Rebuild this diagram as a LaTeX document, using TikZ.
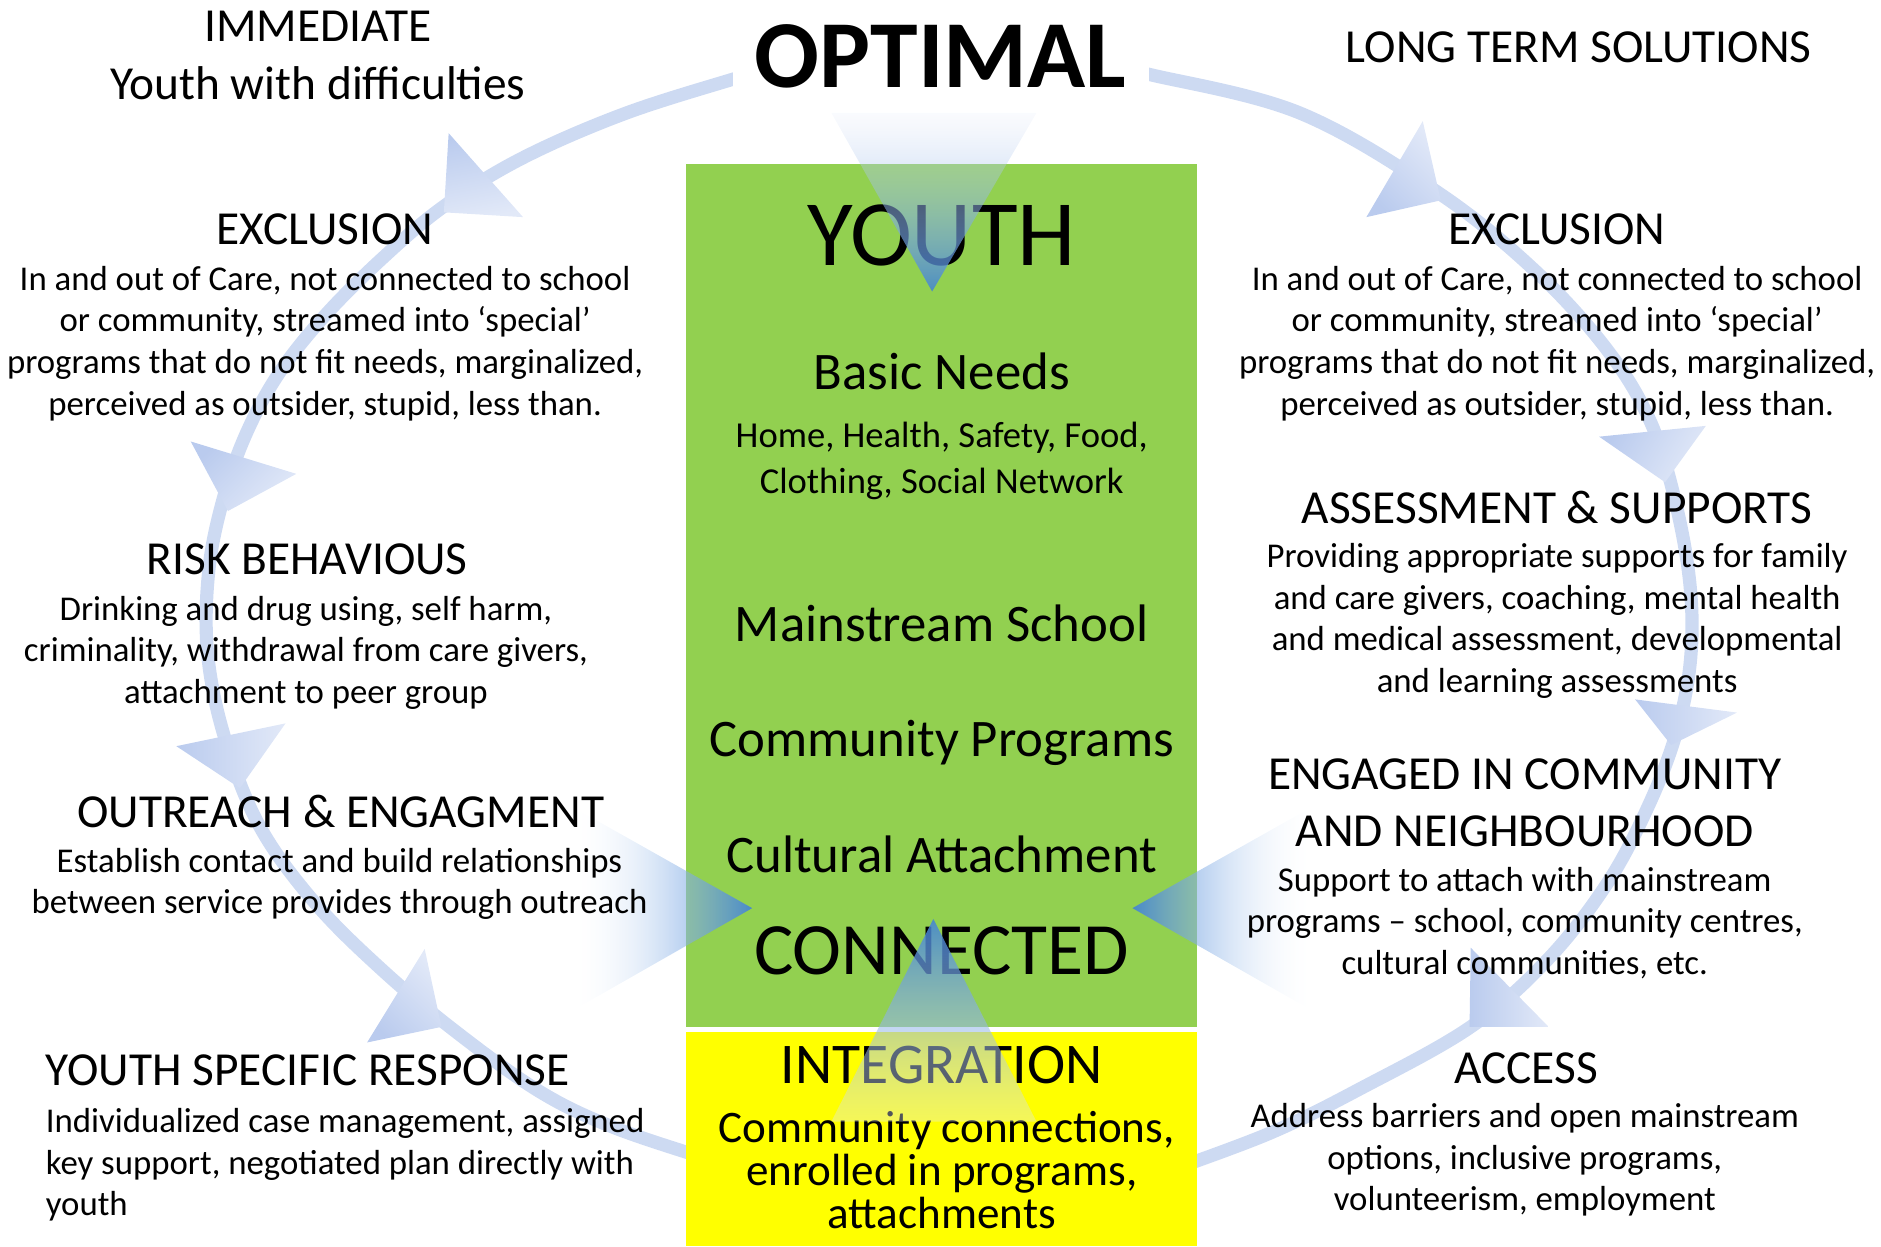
\documentclass[tikz,border=0pt]{standalone}
\usepackage{fontspec}
\setmainfont{Carlito}
\usetikzlibrary{fadings}

\definecolor{boxgreen}{RGB}{146,208,80}
\definecolor{boxyellow}{RGB}{255,255,0}
\definecolor{arcblue}{RGB}{205,218,242}
\definecolor{headdark}{RGB}{186,203,238}
\definecolor{headlight}{RGB}{226,233,248}
\definecolor{bigblue}{RGB}{65,130,215}
\definecolor{bigpale}{RGB}{228,234,248}

\tikzfading[name=fadetopdown, top color=transparent!80, bottom color=transparent!15]
\tikzfading[name=fadebottomup, top color=transparent!15, bottom color=transparent!65]
\tikzfading[name=fadeleftright, left color=transparent!95, right color=transparent!10]
\tikzfading[name=faderightleft, left color=transparent!10, right color=transparent!95]

\tikzset{
  txt/.style={anchor=base, inner sep=0pt, text=black},
  title/.style={txt, font=\fontsize{39.5}{47}\selectfont},
  body/.style={txt, font=\fontsize{29}{35}\selectfont},
  mid/.style={txt, font=\fontsize{44}{52}\selectfont},
  yell/.style={txt, font=\fontsize{37.6}{44}\selectfont},
  flowarc/.style={draw=arcblue, line width=11pt, line cap=butt},
  smallhead/.style={draw=none, top color=headdark, bottom color=headlight},
  bighead/.style={draw=none, fit fading=true},
}

\begin{document}
\begin{tikzpicture}[x=1pt,y=-1pt]
\useasboundingbox (0,0) rectangle (1568,1039);

% ---- cycle arcs
\begin{scope}
  \clip (0,0) rectangle (611,1039);
  \draw[flowarc] plot[smooth, tension=0.6] coordinates {(640,58) (611,66) (520,95) (435,132) (370,172) (318,216) (270,264) (232,312) (205,362) (186,416) (174,476) (173,544) (187,614) (216,688) (262,752) (318,808) (380,860) (450,910) (512,940) (590,966)};
\end{scope}
\begin{scope}
  \clip (958,0) rectangle (1568,1039);
  \draw[flowarc] plot[smooth, tension=0.6] coordinates {(930,56) (958,62) (1083,94) (1198,160) (1280,226) (1340,292) (1376,352) (1397,420) (1409,490) (1409,552) (1397,612) (1374,672) (1340,736) (1290,800) (1226,856) (1133,908) (1060,944) (980,974)};
\end{scope}

% ---- central boxes
\fill[boxgreen] (572,137) rectangle (998,856);
\fill[boxyellow] (572,860) rectangle (998,1039);

% ---- side big arrows (under text)
\shade[bighead, left color=white, right color=bigblue, path fading=fadeleftright]
  (478,673) -- (627,757) -- (478,842) -- cycle;
\shade[bighead, left color=bigblue, right color=white, path fading=faderightleft]
  (1093,673) -- (944,757) -- (1093,842) -- cycle;

% ---- small arrow heads on the arcs
\shade[smallhead, shading angle=10] (374,111) -- (436,181) -- (370,177) -- cycle;
\shade[smallhead, shading angle=45] (159,368) -- (247,395) -- (190,426) -- cycle;
\shade[smallhead, shading angle=90] (147,622) -- (238,603) -- (200,657) -- cycle;
\shade[smallhead, shading angle=135] (354,791) -- (368,856) -- (306,869) -- cycle;
\shade[smallhead, shading angle=135] (1186,101) -- (1201,167) -- (1139,181) -- cycle;
\shade[smallhead, shading angle=60] (1333,364) -- (1422,355) -- (1388,402) -- cycle;
\shade[smallhead, shading angle=90] (1363,583) -- (1448,594) -- (1393,621) -- cycle;
\shade[smallhead, shading angle=90] (1226,790) -- (1291,856) -- (1225,856) -- cycle;

% ---- left column
\node[title] (imm) at (265,35) {IMMEDIATE};
\node[title] (ywd) at (265,83) {Youth with difficulties};
\node[title] (exlA) at (271,204) {EXCLUSION};
\foreach \t [count=\i] in {{In and out of Care, not connected to school},{or community, streamed into ‘special’},{programs that do not fit needs, marginalized,},{perceived as outsider, stupid, less than.}}
  \node[body] (exlA\i) at (271,{242+34.7*(\i-1)}) {\t};
\node[title] (risk) at (256,479) {RISK BEHAVIOUS};
\foreach \t [count=\i] in {{Drinking and drug using, self harm,},{criminality, withdrawal from care givers,},{attachment to peer group}}
  \node[body] (risk\i) at (255,{517+34.7*(\i-1)}) {\t};
\node[title] (outr) at (284,690) {OUTREACH \& ENGAGMENT};
\foreach \t [count=\i] in {{Establish contact and build relationships},{between service provides through outreach}}
  \node[body] (outr\i) at (283,{727+34.7*(\i-1)}) {\t};
\node[title, anchor=base west] (ysr) at (38,905) {YOUTH SPECIFIC RESPONSE};
\foreach \t [count=\i] in {{Individualized case management, assigned},{key support, negotiated plan directly with},{youth}}
  \node[body, anchor=base west] (ysr\i) at (38,{944+34.7*(\i-1)}) {\t};

% ---- right column
\node[title] (lts) at (1316,52) {LONG TERM SOLUTIONS};
\node[title] (exlB) at (1298,204) {EXCLUSION};
\foreach \t [count=\i] in {{In and out of Care, not connected to school},{or community, streamed into ‘special’},{programs that do not fit needs, marginalized,},{perceived as outsider, stupid, less than.}}
  \node[body] (exlB\i) at (1298,{242+34.7*(\i-1)}) {\t};
\node[title] (asup) at (1298,436) {ASSESSMENT \& SUPPORTS};
\foreach \t [count=\i] in {{Providing appropriate supports for family},{and care givers, coaching, mental health},{and medical assessment, developmental},{and learning assessments}}
  \node[body] (asup\i) at (1298,{473+34.7*(\i-1)}) {\t};
\node[title] (eng) at (1271,658) {ENGAGED IN COMMUNITY};
\node[title] (engb) at (1271,706) {AND NEIGHBOURHOOD};
\foreach \t [count=\i] in {{Support to attach with mainstream},{programs – school, community centres,},{cultural communities, etc.}}
  \node[body] (eng\i) at (1271,{743+34.7*(\i-1)}) {\t};
\node[title] (acc) at (1272,903) {ACCESS};
\foreach \t [count=\i] in {{Address barriers and open mainstream},{options, inclusive programs,},{volunteerism, employment}}
  \node[body] (acc\i) at (1271,{940+34.7*(\i-1)}) {\t};

% ---- centre
\node[txt, font=\fontsize{80}{90}\selectfont\bfseries] (opt) at (784,73) {OPTIMAL};
\node[txt, font=\fontsize{78}{90}\selectfont] (youth) at (785,221) {YOUTH};
\node[mid] (basic) at (785,325) {Basic Needs};
\node[txt, font=\fontsize{30.5}{36}\selectfont] (home) at (785,373) {Home, Health, Safety, Food,};
\node[txt, font=\fontsize{30.5}{36}\selectfont] (cloth) at (785,411) {Clothing, Social Network};
\node[mid] (mains) at (785,535) {Mainstream School};
\node[mid] (comm) at (785,631) {Community Programs};
\node[mid] (cult) at (785,727) {Cultural Attachment};
\node[txt, font=\fontsize{61.5}{70}\selectfont] (conn) at (785,812) {CONNECTED};
\node[txt, font=\fontsize{48}{56}\selectfont] (integ) at (785,903) {INTEGRATION};
\node[yell] (int1) at (789,952) {Community connections,};
\node[yell] (int2) at (785,988) {enrolled in programs,};
\node[yell] (int3) at (785,1024) {attachments};

% ---- top and bottom big arrows (over text)
\shade[bighead, top color=bigpale, bottom color=bigblue, path fading=fadetopdown]
  (693,94) -- (864,94) -- (777,243) -- cycle;
\shade[bighead, top color=bigblue, bottom color=bigpale, path fading=fadebottomup]
  (778,766) -- (864,935) -- (693,935) -- cycle;
\end{tikzpicture}
\end{document}
